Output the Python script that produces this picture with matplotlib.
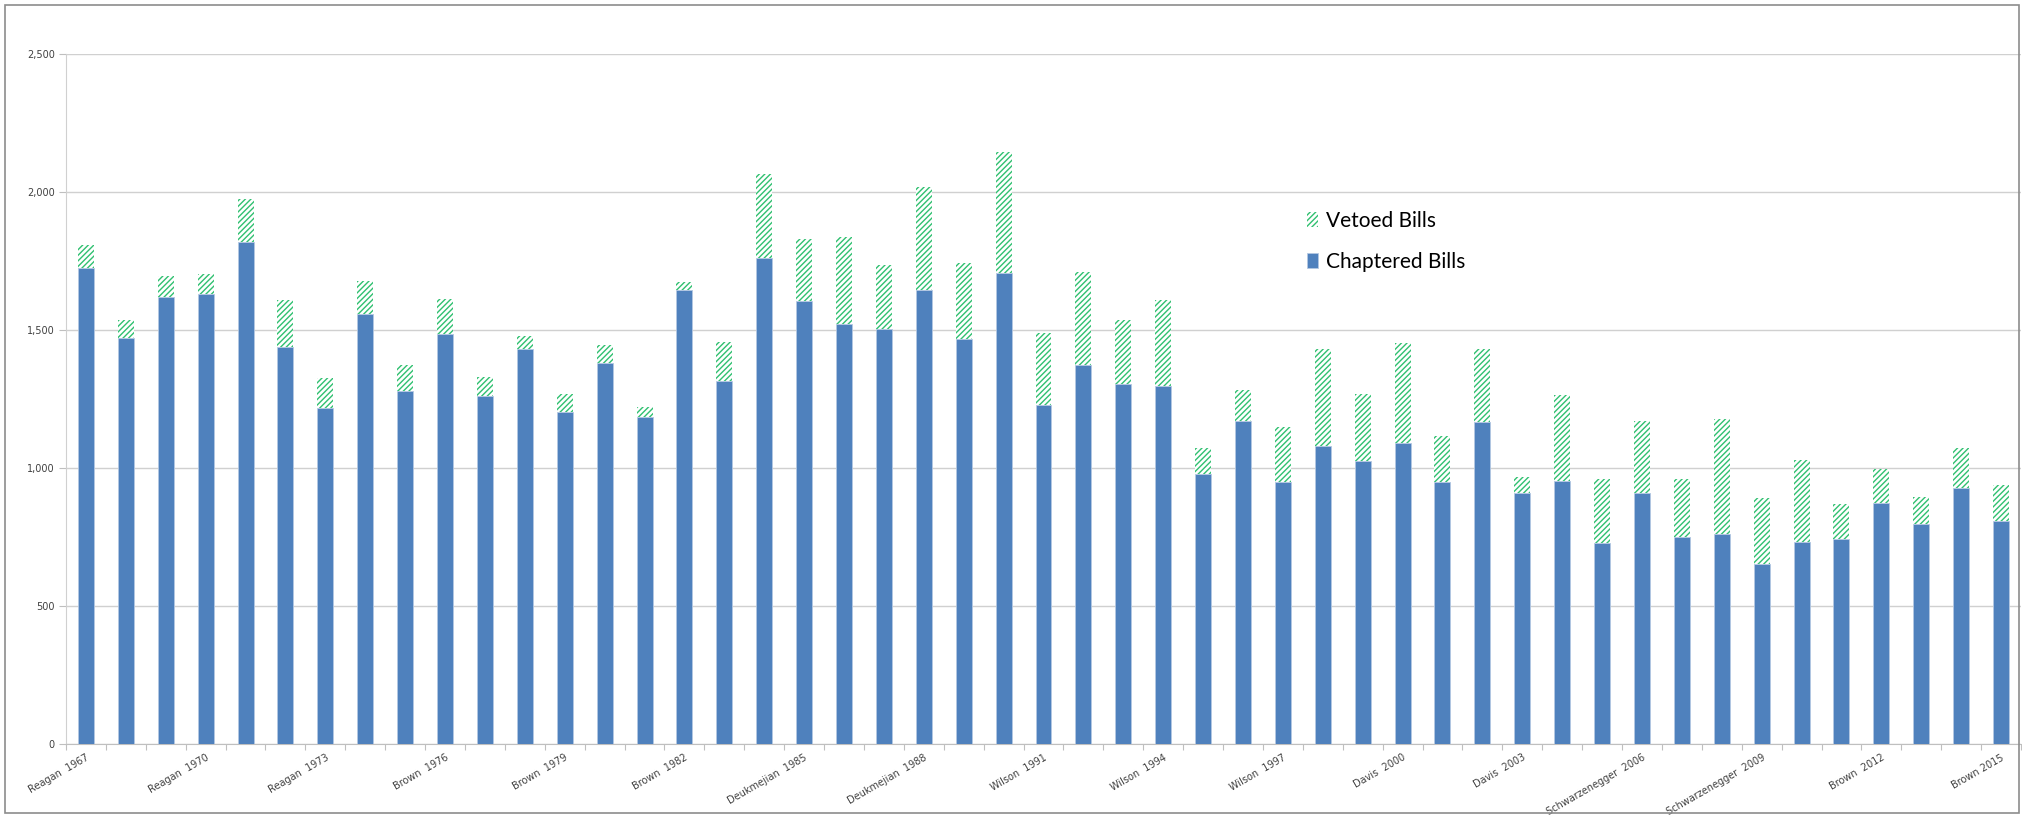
import matplotlib
matplotlib.use("Agg")
import matplotlib.pyplot as plt
import numpy as np
from matplotlib.patches import Rectangle
from matplotlib.ticker import FuncFormatter, MultipleLocator

# California legislative sessions 1967-2015
years = list(range(1967, 2016))
chaptered = [1726, 1472, 1618, 1629, 1820, 1440, 1219, 1558, 1280, 1487,
             1262, 1432, 1204, 1380, 1185, 1645, 1316, 1760, 1606, 1522,
             1504, 1646, 1466, 1707, 1229, 1372, 1304, 1298, 980, 1170,
             948, 1080, 1024, 1092, 948, 1168, 908, 954, 727, 908,
             750, 761, 651, 731, 743, 874, 798, 929, 807]
vetoed = [81, 63, 78, 73, 155, 167, 106, 121, 93, 127,
          68, 47, 64, 64, 36, 29, 139, 304, 224, 316,
          230, 373, 277, 438, 261, 338, 231, 311, 92, 114,
          199, 350, 245, 361, 169, 264, 58, 310, 233, 262,
          211, 415, 239, 297, 125, 121, 96, 142, 131]
tick_labels = ["Reagan  1967", "Reagan  1970", "Reagan  1973", "Brown  1976",
               "Brown  1979", "Brown  1982", "Deukmejian  1985", "Deukmejian  1988",
               "Wilson  1991", "Wilson  1994", "Wilson  1997", "Davis  2000",
               "Davis  2003", "Schwarzenegger  2006", "Schwarzenegger  2009",
               "Brown  2012", "Brown 2015"]

BLUE = "#4f81bd"
GREEN = "#30c070"

plt.rcParams["hatch.linewidth"] = 1.0

fig = plt.figure(figsize=(20.22, 8.18), dpi=100)
ax = fig.add_axes([66 / 2022, 1 - 744 / 818, (2021 - 66) / 2022, (744 - 54) / 818])

x = np.arange(len(years))
chap_bars = ax.bar(x, chaptered, width=0.4, color=BLUE, edgecolor="#b4c8e2",
                   linewidth=0.6, label="Chaptered Bills", zorder=3)
veto_bars = ax.bar(x, vetoed, width=0.4, bottom=chaptered, facecolor="white",
                   edgecolor=GREEN, hatch="//////", linewidth=0,
                   label="Vetoed Bills", zorder=3)

ax.set_xlim(-0.5, len(years) - 0.5)
ax.set_ylim(0, 2500)
ax.yaxis.set_major_locator(MultipleLocator(500))
ax.yaxis.set_major_formatter(FuncFormatter(lambda v, p: f"{int(v):,}"))
ax.grid(axis="y", color="#d0d0d0", linewidth=1.0, zorder=0)
ax.set_axisbelow(True)

ax.set_xticks(np.arange(-0.5, len(years), 1.0), minor=False)
ax.set_xticklabels([])
ax.set_xticks(x[::3], minor=True)
ax.set_xticklabels(tick_labels, minor=True, rotation=30, ha="right", va="top",
                   rotation_mode="anchor", fontsize=7, color="#404040")
ax.tick_params(axis="x", which="major", length=4, color="#bfbfbf", width=0.8)
ax.tick_params(axis="x", which="minor", length=0, pad=6)
ax.tick_params(axis="y", length=5, color="#bfbfbf", width=0.8, pad=3,
               labelsize=7, labelcolor="#404040")

for side in ["top", "right"]:
    ax.spines[side].set_visible(False)
ax.spines["left"].set_color("#d0d0d0")
ax.spines["bottom"].set_color("#bfbfbf")

leg = fig.legend([veto_bars, chap_bars], ["Vetoed Bills", "Chaptered Bills"],
                 loc="upper left", bbox_to_anchor=(1288 / 2022, 1 - 192 / 818),
                 frameon=False, handlelength=0.55, handleheight=0.7,
                 handletextpad=0.35, labelspacing=1.0,
                 prop={"family": ["Lato", "DejaVu Sans"], "size": 15})

fig.patches.append(Rectangle((5 / 2022, 5 / 818), 2014 / 2022, 808 / 818,
                             transform=fig.transFigure, fill=False,
                             edgecolor="#8c8c8c", linewidth=1.2))

fig.savefig("out.png", dpi=100, facecolor="white")
